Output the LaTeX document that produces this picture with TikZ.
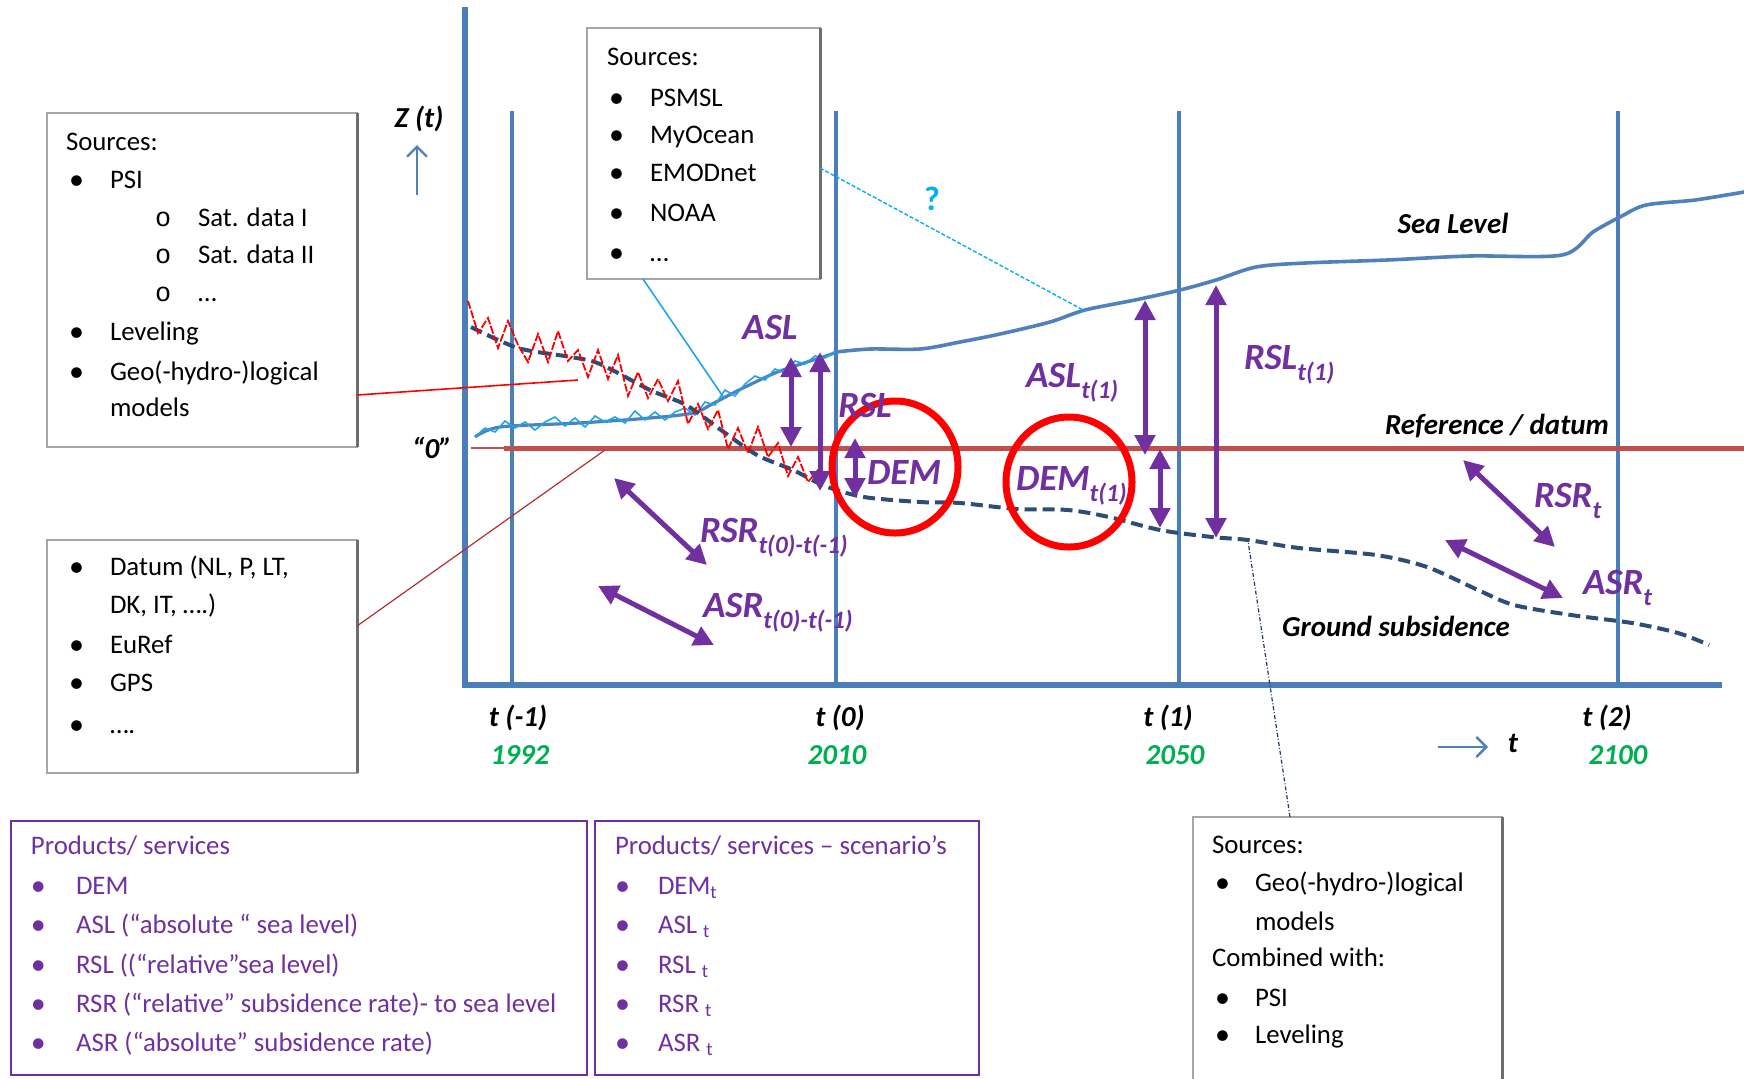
\documentclass[tikz,border=0pt]{standalone}
\usepackage{fontspec}
\setmainfont{Carlito}
\newfontfamily\monofnt{Liberation Mono}
\usetikzlibrary{arrows.meta,calc}
\definecolor{axisblue}{HTML}{4A7EBB}
\definecolor{seablue}{HTML}{4F81BD}
\definecolor{lightblue}{HTML}{1EA7E8}
\definecolor{qblue}{HTML}{00B0F0}
\definecolor{groundblue}{HTML}{2C4D75}
\definecolor{refred}{HTML}{C0504D}
\definecolor{darkred}{HTML}{B03030}
\definecolor{ppl}{HTML}{7030A0}
\definecolor{yeargreen}{HTML}{00B050}
\definecolor{boxgray}{HTML}{A6A6A6}
\definecolor{shadowgray}{HTML}{6E6E6E}
\definecolor{navy}{HTML}{1F3864}
\newcommand{\mysub}[1]{\raisebox{-0.3em}{\fontsize{12.5}{12}\selectfont #1}}
\begin{document}
\begin{tikzpicture}[x=0.5pt,y=-0.5pt,
  every node/.style={inner sep=0pt,outer sep=0pt},
  graybox/.style={draw=boxgray,line width=0.9pt,fill=white,anchor=north west,inner sep=0pt},
  purplebox/.style={draw=ppl,line width=1.4pt,fill=white,anchor=north west,inner sep=0pt},
  boxtxt/.style={anchor=base west,font=\fontsize{13.4}{16}\selectfont,text=black},
  ptxt/.style={boxtxt,text=ppl},
  bul/.style={anchor=base west,font=\fontsize{15}{16}\selectfont,text=black},
  pbul/.style={bul,text=ppl},
  lbl/.style={anchor=base,font=\fontsize{14.5}{16}\selectfont\bfseries\itshape,text=black},
  yearlbl/.style={lbl,text=yeargreen},
  plbl/.style={anchor=base west,font=\fontsize{18.5}{20}\selectfont\bfseries\itshape,text=ppl},
  parr/.style={ppl,line width=2.5pt,{Triangle[length=10pt,width=10pt]}-{Triangle[length=10pt,width=10pt]}},
  tline/.style={axisblue,line width=1.75pt},
  bluearrow/.style={seablue,line width=1.2pt,-{Straight Barb[length=5pt,width=10pt]}},
  shadowedge/.style={shadowgray,line width=1.5pt}
]
\useasboundingbox (0,0) rectangle (1744,1078);

% ---------- axes ----------
\draw[tline] (512,111) -- (512,685);
\draw[tline] (836,111) -- (836,685);
\draw[tline] (1179,111) -- (1179,685);
\draw[tline] (1618,111) -- (1618,685);
\draw[axisblue,line width=2.6pt] (465,7) -- (465,685) -- (1722,685);

% reference line
\draw[refred,line width=1pt] (471,448) -- (504,448);
\draw[refred,line width=2.5pt] (504,448) -- (1744,448);

% sea level (left, observed)
\draw[seablue,line width=1.6pt] plot[smooth,tension=0.5] coordinates {(475,437) (500,427) (579,423) (650,418) (693,413) (714,403) (739,390) (775,373) (804,363) (829,355) (836,352)};
\draw[lightblue,line width=0.8pt] plot coordinates {(475,437) (485,428) (495,432) (505,421) (515,428) (525,422) (535,430) (545,422) (555,417) (565,426) (575,418) (585,427) (595,416) (605,422) (615,417) (625,423) (635,411) (645,420) (655,412) (665,420) (675,412) (685,408) (695,415) (705,402) (715,405) (725,390) (735,396) (745,384) (755,376) (765,380) (775,369) (785,373) (795,361) (805,364) (815,356) (825,358) (835,352)};
% sea level (future)
\draw[seablue,line width=1.8pt] plot[smooth,tension=0.5] coordinates {(836,352) (870,349) (920,349) (960,342) (1000,334) (1050,322) (1085,310) (1135,300) (1180,290) (1216,280) (1256,267) (1305,263) (1387,260) (1470,256) (1562,255) (1593,232) (1620,217) (1646,205) (1695,200) (1744,192)};

% ground subsidence
\draw[groundblue,line width=2pt,dash pattern=on 6pt off 3pt] plot[smooth,tension=0.5] coordinates {(471,327) (518,348) (571,357) (600,364) (650,390) (686,405) (721,430) (757,455) (793,470) (825,486) (864,497) (920,502) (960,503) (1017,509) (1068,510) (1109,517) (1160,530) (1212,537) (1248,540) (1299,548) (1376,555) (1427,567) (1478,590) (1514,605) (1571,615) (1632,623) (1678,633) (1709,645)};
% measured subsidence (red, noisy)
\draw[red,line width=0.9pt,dash pattern=on 4pt off 1pt] plot coordinates {(468,301) (478,333) (488,318) (498,348) (508,321) (518,345) (528,362) (538,334) (548,362) (558,331) (568,361) (578,350) (588,377) (598,350) (608,379) (618,355) (628,396) (638,372) (648,398) (658,379) (668,401) (678,381) (688,424) (698,404) (708,429) (718,410) (728,449) (738,428) (748,453) (758,427) (768,457) (778,443) (788,476) (798,457) (808,482) (818,470) (825,480)};

% ---------- source boxes ----------
\node[graybox,minimum width=155pt,minimum height=167pt] (srcA) at (47,113) {};
\draw[shadowedge] (srcA.north east) -- (srcA.south east);
\node[boxtxt] (aS) at (66,150) {Sources:};
\node[bul] (aB1) at (69,189) {•};
\node[boxtxt] (aPSI) at (110,188) {PSI};
\node[boxtxt] (aC1) at (155,226) {\monofnt o};
\node[boxtxt] (aSat1) at (198,226) {Sat. data I};
\node[boxtxt] (aC2) at (155,263) {\monofnt o};
\node[boxtxt] (aSat2) at (198,263) {Sat. data II};
\node[boxtxt] (aC3) at (155,301) {\monofnt o};
\node[boxtxt] (aDots) at (198,301) {…};
\node[bul] (aB2) at (69,341) {•};
\node[boxtxt] (aLev) at (110,340) {Leveling};
\node[bul] (aB3) at (69,381) {•};
\node[boxtxt] (aGeo) at (110,380) {Geo(-hydro-)logical};
\node[boxtxt] (aMod) at (110,416) {models};

\node[graybox,minimum width=155pt,minimum height=116.5pt] (srcB) at (47,540) {};
\draw[shadowedge] (srcB.north east) -- (srcB.south east);
\node[bul] (bB1) at (69,576) {•};
\node[boxtxt] (bDat) at (110,575) {Datum (NL, P, LT,};
\node[boxtxt] (bDK) at (110,613) {DK, IT, ….)};
\node[bul] (bB2) at (69,654) {•};
\node[boxtxt] (bEu) at (110,653) {EuRef};
\node[bul] (bB3) at (69,692) {•};
\node[boxtxt] (bGPS) at (110,691) {GPS};
\node[bul] (bB4) at (69,734) {•};
\node[boxtxt] (bDots) at (110,733) {….};

\node[graybox,minimum width=116.5pt,minimum height=125.5pt] (srcT) at (587,28) {};
\draw[shadowedge] (srcT.north east) -- (srcT.south east);
\node[boxtxt] (tS) at (607,65) {Sources:};
\node[bul] (tB1) at (609,107) {•};
\node[boxtxt] (tPS) at (650,106) {PSMSL};
\node[bul] (tB2) at (609,144) {•};
\node[boxtxt] (tMy) at (650,143) {MyOcean};
\node[bul] (tB3) at (609,182) {•};
\node[boxtxt] (tEM) at (650,181) {EMODnet};
\node[bul] (tB4) at (609,222) {•};
\node[boxtxt] (tNO) at (650,221) {NOAA};
\node[bul] (tB5) at (609,262) {•};
\node[boxtxt] (tDots) at (650,261) {…};

\node[graybox,minimum width=154.5pt,minimum height=140pt] (srcR) at (1193,817) {};
\draw[shadowedge] (srcR.north east) -- (srcR.south east);
\node[boxtxt] (rS) at (1212,853) {Sources:};
\node[bul] (rB1) at (1215,892) {•};
\node[boxtxt] (rGeo) at (1255,891) {Geo(-hydro-)logical};
\node[boxtxt] (rMod) at (1255,930) {models};
\node[boxtxt] (rComb) at (1212,966) {Combined with:};
\node[bul] (rB2) at (1215,1007) {•};
\node[boxtxt] (rPSI) at (1255,1006) {PSI};
\node[bul] (rB3) at (1215,1044) {•};
\node[boxtxt] (rLev) at (1255,1043) {Leveling};

% ---------- product boxes ----------
\node[purplebox,minimum width=288pt,minimum height=127pt] (prodA) at (11,821) {};
\node[ptxt] (pAh) at (31,854) {Products/ services};
\node[pbul] (pAb1) at (31,895) {•};
\node[ptxt] (pA1) at (76,894) {DEM};
\node[pbul] (pAb2) at (31,934) {•};
\node[ptxt] (pA2) at (76,933) {ASL (“absolute “ sea level)};
\node[pbul] (pAb3) at (31,974) {•};
\node[ptxt] (pA3) at (76,973) {RSL ((“relative”sea level)};
\node[pbul] (pAb4) at (31,1013) {•};
\node[ptxt] (pA4) at (76,1012) {RSR (“relative” subsidence rate)- to sea level};
\node[pbul] (pAb5) at (31,1052) {•};
\node[ptxt] (pA5) at (76,1051) {ASR (“absolute” subsidence rate)};

\node[purplebox,minimum width=192pt,minimum height=127pt] (prodB) at (595,821) {};
\node[ptxt] (pBh) at (615,854) {Products/ services – scenario’s};
\node[pbul] (pBb1) at (615,895) {•};
\node[ptxt] (pB1) at (658,894) {DEM\textsubscript{t}};
\node[pbul] (pBb2) at (615,934) {•};
\node[ptxt] (pB2) at (658,933) {ASL \textsubscript{t}};
\node[pbul] (pBb3) at (615,974) {•};
\node[ptxt] (pB3) at (658,973) {RSL \textsubscript{t}};
\node[pbul] (pBb4) at (615,1013) {•};
\node[ptxt] (pB4) at (658,1012) {RSR \textsubscript{t}};
\node[pbul] (pBb5) at (615,1052) {•};
\node[ptxt] (pB5) at (658,1051) {ASR \textsubscript{t}};

% ---------- connectors ----------
\coordinate (redEnd) at (578,380);
\coordinate (datumEnd) at (605,450);
\coordinate (obsEnd) at (724,398);
\coordinate (futEnd) at (1085,311);
\coordinate (gsEnd) at (1248,541);
\draw[red,line width=0.8pt] ($(srcA.south east)+(0,-52)$) -- (redEnd);
\draw[darkred,line width=0.6pt] ($(srcB.south east)+(0,-147)$) -- (datumEnd);
\draw[lightblue,line width=0.8pt] ($(srcT.south west)+(56,0)$) -- (obsEnd);
\draw[qblue,line width=0.7pt,dash pattern=on 2pt off 1pt] ($(srcT.north east)+(0,140)$) -- (futEnd);
\draw[navy,line width=0.6pt,dash pattern=on 2pt off 1pt on 0.5pt off 1pt] ($(srcR.north west)+(97,0)$) -- (gsEnd);

% ---------- purple arrows ----------
\coordinate (aslT) at (791,357);  \coordinate (aslB) at (791,447);
\coordinate (rslT) at (820,352);  \coordinate (rslB) at (820,491);
\coordinate (demT) at (855,438);  \coordinate (demB) at (855,498);
\coordinate (asl1T) at (1145,300); \coordinate (asl1B) at (1145,455);
\coordinate (dem1T) at (1160,449); \coordinate (dem1B) at (1160,528);
\coordinate (rsl1T) at (1216,285); \coordinate (rsl1B) at (1216,538);
\coordinate (rsr0A) at (614,478); \coordinate (rsr0B) at (707,565);
\coordinate (asr0A) at (598,586); \coordinate (asr0B) at (714,645);
\coordinate (rsrA) at (1463,460); \coordinate (rsrB) at (1555,547);
\coordinate (asrA) at (1445,540); \coordinate (asrB) at (1563,598);
\draw[parr] (aslT) -- (aslB);
\draw[parr] (rslT) -- (rslB);
\draw[parr] (demT) -- (demB);
\draw[parr] (asl1T) -- (asl1B);
\draw[parr] (dem1T) -- (dem1B);
\draw[parr] (rsl1T) -- (rsl1B);
\draw[parr] (rsr0A) -- (rsr0B);
\draw[parr] (asr0A) -- (asr0B);
\draw[parr] (rsrA) -- (rsrB);
\draw[parr] (asrA) -- (asrB);

% ---------- red circles ----------
\draw[red,line width=3.5pt] (895,467) ellipse [x radius=31.5pt,y radius=33pt];
\draw[red,line width=3.5pt] (1069,482) ellipse [x radius=31.5pt,y radius=32.5pt];

% ---------- purple labels ----------
\node[plbl,anchor=base] (lASL) at (770,339) {ASL};
\node[plbl,anchor=base] (lRSL) at (865,417) {RSL};
\node[plbl,anchor=base] (lDEM) at (904,484) {DEM};
\node[plbl] (lRSR0) at (700,542) {RSR\mysub{t(0)-t(-1)}};
\node[plbl] (lASR0) at (703,617) {ASR\mysub{t(0)-t(-1)}};
\node[plbl] (lASL1) at (1026,387) {ASL\mysub{t(1)}};
\node[plbl] (lRSL1) at (1244,369) {RSL\mysub{t(1)}};
\node[plbl] (lDEM1) at (1016,490) {DEM\mysub{t(1)}};
\node[plbl] (lRSR) at (1534,507) {RSR\mysub{t}};
\node[plbl] (lASR) at (1583,594) {ASR\mysub{t}};

% ---------- black labels ----------
\node[lbl] (lSea) at (1453,233) {Sea Level};
\node[lbl] (lRef) at (1497,434) {Reference / datum};
\node[lbl] (lGround) at (1396,636) {Ground subsidence};
\node[lbl] (lZ) at (419,127) {Z (t)};
\node[lbl] (lZero) at (432,458) {“0”};
\node[anchor=base,font=\fontsize{17}{18}\selectfont\bfseries,text=qblue] (lQ) at (932,210) {?};
\coordinate (zA) at (417,195); \coordinate (zB) at (417,145);
\draw[bluearrow] (zA) -- (zB);
\coordinate (tA) at (1438,747); \coordinate (tB) at (1488,747);
\draw[bluearrow] (tA) -- (tB);
\node[lbl] (lt) at (1513,752) {t};

\node[lbl] (lt-1) at (518,726) {t (-1)};
\node[yearlbl] (y1992) at (520,764) {1992};
\node[lbl] (lt0) at (840,726) {t (0)};
\node[yearlbl] (y2010) at (837,764) {2010};
\node[lbl] (lt1) at (1168,726) {t (1)};
\node[yearlbl] (y2050) at (1175,764) {2050};
\node[lbl] (lt2) at (1607,726) {t (2)};
\node[yearlbl] (y2100) at (1618,764) {2100};
\end{tikzpicture}
\end{document}
